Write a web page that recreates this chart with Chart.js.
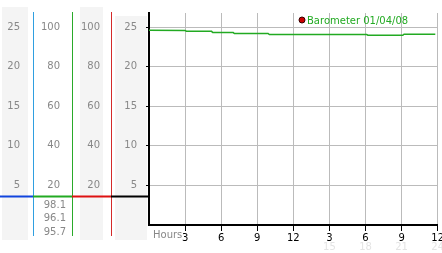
<!DOCTYPE html>
<html lang="en">
<head>
  <meta charset="UTF-8" />
  <title>Barometer 01/04/08</title>
  <script src="https://cdn.jsdelivr.net/npm/chart.js"></script>
  <style>
    body { margin: 0; background: #fff; }
    #wrap { width: 442px; height: 253px; }
  </style>
</head>
<body>
  <div id="wrap"><canvas id="baro" width="442" height="253"></canvas></div>

  <script>
    // readings (hours since midnight, pressure)
    const hours    = [0, 3, 3.1, 5.2, 5.3, 7, 7.1, 9.9, 10, 18.1, 18.2, 21.1, 21.2, 23.8];
    const pressure = [24.62, 24.6, 24.5, 24.48, 24.33, 24.33, 24.21, 24.21, 24.08, 24.08, 23.99, 23.99, 24.12, 24.12];

    const seriesLabel = 'Barometer 01/04/08';
    const leftTicks = [5, 10, 15, 20, 25];
    const pctTicks  = [20, 40, 60, 80, 100];
    const xTicks    = [3, 6, 9, 12, 15, 18, 21, 24];
    const xLabels   = ['3', '6', '9', '12', '3', '6', '9', '12'];
    const xLabels24 = ['', '', '', '', '15', '18', '21', '24'];
    const readouts  = ['98.1', '96.1', '95.7'];

    Chart.defaults.font.family = 'DejaVu Sans';
    Chart.defaults.font.size = 10;

    const setTicks = list => s => { s.ticks = list.map(v => ({ value: v })); };
    // fixed column width, and no extra room reserved for the labels above/below
    const setWidth = w => s => { s.width = w; s.paddingTop = 0; s.paddingBottom = 0; };

    const decor = {
      id: 'decor',
      beforeDraw(chart) {
        const { ctx, scales: s } = chart;
        ctx.save();
        ctx.fillStyle = '#fff';
        ctx.fillRect(0, 0, chart.width, chart.height);
        ctx.fillStyle = '#f4f4f4';
        ctx.fillRect(s.yT.left + 2, 7, s.yT.width - 7, 233);
        ctx.fillRect(s.yR.left + 8, 7, s.yR.width - 16, 233);
        ctx.fillRect(s.y.left + 4, 16, s.y.width - 6, 224);
        ctx.restore();
      },
      afterDraw(chart) {
        const { ctx, scales: s, chartArea: a } = chart;
        ctx.save();
        // coloured column dividers
        [[s.yT, '#2f9fe0'], [s.yG, '#2aaa2a'], [s.yR, '#d42a2a']].forEach(([sc, c]) => {
          ctx.strokeStyle = c; ctx.lineWidth = 1;
          ctx.beginPath(); ctx.moveTo(sc.right + 0.5, 12); ctx.lineTo(sc.right + 0.5, 236); ctx.stroke();
        });
        // separator bars
        const sepY = 196.5;
        [[s.yT, '#1144dd'], [s.yG, '#22aa22'], [s.yR, '#dd1111'], [s.y, '#000']].forEach(([sc, c]) => {
          ctx.strokeStyle = c; ctx.lineWidth = 2;
          ctx.beginPath(); ctx.moveTo(sc.left, sepY); ctx.lineTo(sc.right, sepY); ctx.stroke();
        });
        // readouts under the second column
        ctx.font = '10px DejaVu Sans';
        ctx.fillStyle = '#888';
        ctx.textAlign = 'right';
        ctx.textBaseline = 'middle';
        readouts.forEach((t, i) => ctx.fillText(t, s.yG.right - 6, 205 + i * 13.5));
        // x axis caption and 24h labels
        ctx.textAlign = 'left';
        ctx.fillText('Hours', a.left + 4, 235);
        ctx.fillStyle = '#e4e4e4';
        ctx.textAlign = 'center';
        xLabels24.forEach((t, i) => { if (t) ctx.fillText(t, s.x.getPixelForValue(xTicks[i]), 247); });
        // legend
        const lx = a.left + 153, ly = 20;
        ctx.fillStyle = '#cc0000'; ctx.strokeStyle = '#330000'; ctx.lineWidth = 1;
        ctx.beginPath(); ctx.arc(lx, ly, 3, 0, Math.PI * 2); ctx.fill(); ctx.stroke();
        ctx.font = '10px DejaVu Sans';
        ctx.fillStyle = '#22aa22';
        ctx.textAlign = 'left';
        ctx.fillText(chart.data.datasets[0].label, lx + 5, ly + 1);
        ctx.restore();
      }
    };

    const sideAxis = (max, ticks, width, pad, weight) => ({
      position: 'left',
      weight: weight,
      min: 0,
      max: max,
      afterBuildTicks: setTicks(ticks),
      afterFit: setWidth(width),
      grid: { display: false, drawTicks: false },
      border: { display: false },
      ticks: { color: '#888', padding: pad }
    });

    new Chart(document.getElementById('baro'), {
      type: 'line',
      data: {
        datasets: [{
          label: seriesLabel,
          data: hours.map((h, i) => ({ x: h, y: pressure[i] })),
          borderColor: '#22aa22',
          borderWidth: 1.5,
          pointRadius: 0,
          tension: 0
        }]
      },
      options: {
        responsive: false,
        animation: false,
        layout: { padding: { top: 13, right: 4.3, left: 0, bottom: 0 } },
        plugins: { legend: { display: false }, tooltip: { enabled: false } },
        scales: {
          x: {
            type: 'linear',
            min: 0,
            max: 24,
            afterBuildTicks: setTicks(xTicks),
            afterFit: s => { s.height = 28; s.paddingLeft = 0; s.paddingRight = 0; },
            grid: { color: '#bbb', tickColor: '#000', tickLength: 6 },
            border: { color: '#000', width: 2 },
            ticks: { color: '#000', padding: 1, maxRotation: 0, callback: (v, i) => xLabels[i] }
          },
          y: {
            position: 'left',
            weight: 1,
            min: 0,
            max: 26.8,
            afterBuildTicks: setTicks(leftTicks),
            afterFit: setWidth(38),
            grid: { color: '#bbb', tickColor: '#000', tickLength: 3 },
            border: { color: '#000', width: 2 },
            ticks: { color: '#888', padding: 9 }
          },
          yR: sideAxis(107.2, pctTicks, 39, 11, 2),
          yG: sideAxis(107.2, pctTicks, 39, 12, 3),
          yT: sideAxis(26.8, leftTicks, 33, 13, 4)
        }
      },
      plugins: [decor]
    });
  </script>
</body>
</html>
